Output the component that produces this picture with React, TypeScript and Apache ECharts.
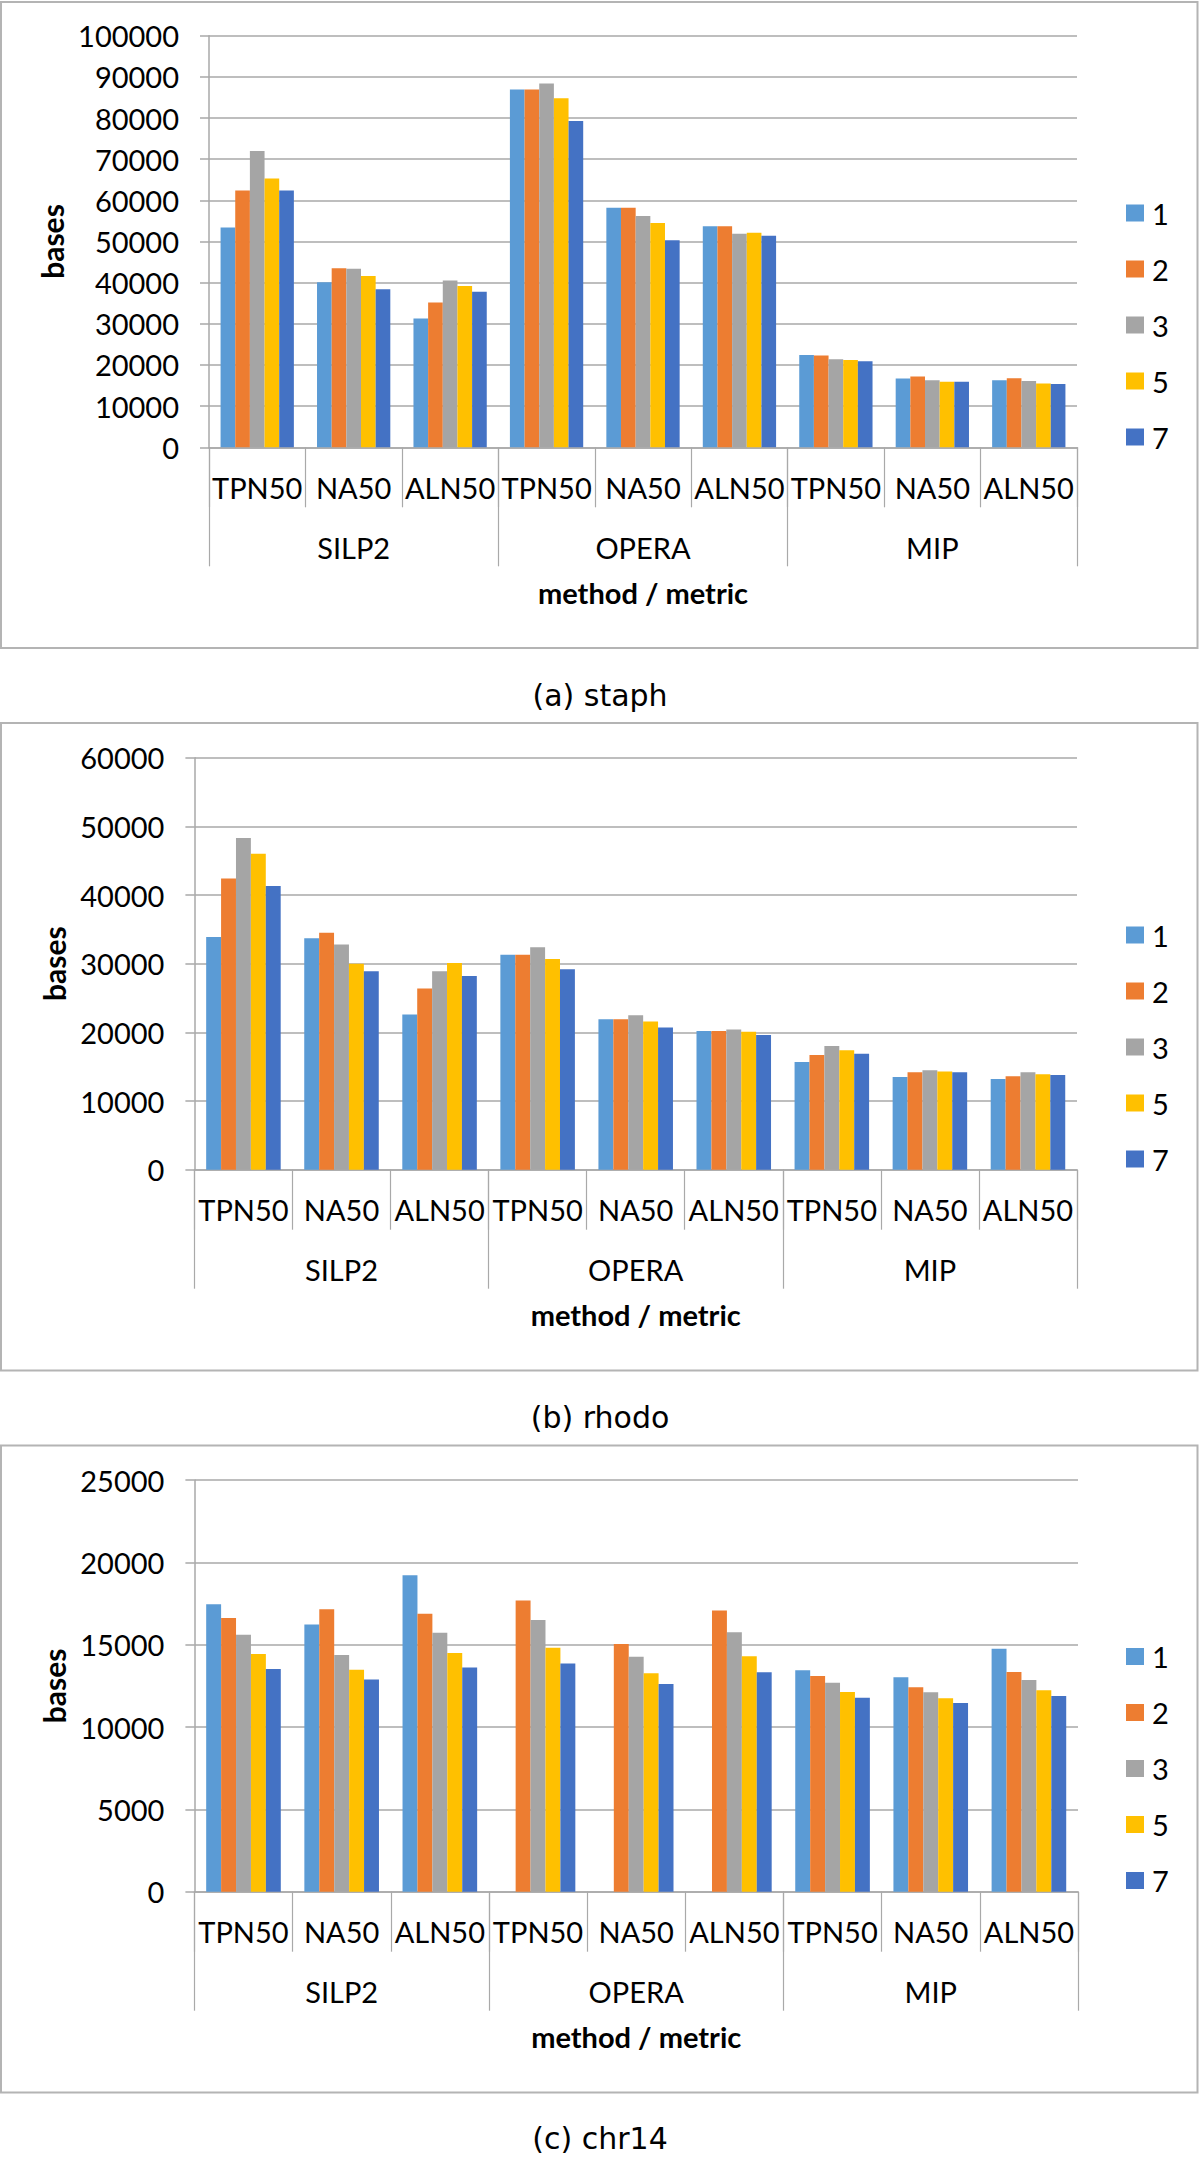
import React, { useEffect, useRef } from "react";
import * as echarts from "echarts";

const metrics = ["TPN50", "NA50", "ALN50", "TPN50", "NA50", "ALN50", "TPN50", "NA50", "ALN50"];
const methods = ["SILP2", "OPERA", "MIP"];
const seriesNames = ["1", "2", "3", "5", "7"];
const colors = ["#5B9BD5", "#ED7D31", "#A5A5A5", "#FFC000", "#4472C4"];

// staph
const staph1 = [53400, 40100, 31300, 86900, 58200, 53700, 22400, 16700, 16300];
const staph2 = [62400, 43500, 35200, 86900, 58200, 53700, 22300, 17200, 16800];
const staph3 = [72000, 43400, 40500, 88400, 56200, 51900, 21400, 16300, 16100];
const staph5 = [65300, 41600, 39200, 84800, 54500, 52100, 21200, 15900, 15500];
const staph7 = [62400, 38400, 37800, 79300, 50300, 51400, 20900, 15900, 15400];

// rhodo
const rhodo1 = [33900, 33700, 22600, 31300, 21900, 20200, 15700, 13500, 13200];
const rhodo2 = [42400, 34500, 26400, 31300, 21900, 20200, 16700, 14200, 13600];
const rhodo3 = [48300, 32800, 28900, 32400, 22500, 20400, 18000, 14500, 14200];
const rhodo5 = [46000, 30000, 30100, 30700, 21600, 20100, 17400, 14300, 13900];
const rhodo7 = [41300, 28900, 28200, 29200, 20700, 19600, 16900, 14200, 13800];

// chr14
const chr1 = [17450, 16230, 19210, null, null, null, 13440, 13020, 14760];
const chr2 = [16620, 17150, 16880, 17690, 15040, 17080, 13100, 12410, 13340];
const chr3 = [15610, 14370, 15730, 16500, 14270, 15750, 12690, 12110, 12850];
const chr5 = [14430, 13480, 14490, 14820, 13260, 14290, 12130, 11740, 12230];
const chr7 = [13520, 12890, 13620, 13850, 12610, 13320, 11780, 11460, 11880];

const yMaxes = [100000, 60000, 25000];
const yIntervals = [10000, 10000, 5000];
const captions = ["(a) staph", "(b) rhodo", "(c) chr14"];
const panelData = [
  [staph1, staph2, staph3, staph5, staph7],
  [rhodo1, rhodo2, rhodo3, rhodo5, rhodo7],
  [chr1, chr2, chr3, chr5, chr7],
];

const FONT = "Lato";
const FS = 29;
const GRID_COLOR = "#a9a9a9";
const BORDER_COLOR = "#b4b4b4";

const grids = [
  { left: 209, top: 35.7, width: 868, height: 411.6 },
  { left: 194.4, top: 757.7, width: 882.6, height: 412 },
  { left: 194.4, top: 1480, width: 883.6, height: 411.7 },
];
const yNameGaps = [134, 119, 119];
const legendTops = [198.5, 920.5, 1642];
const borders = [
  { y: 2, h: 646 },
  { y: 723, h: 647.5 },
  { y: 1445.5, h: 647 },
];
const captionY = [695, 1417, 2138];

export default function App() {
  const ref = useRef<HTMLDivElement>(null);
  useEffect(() => {
    if (!ref.current) return;
    const chart = echarts.init(ref.current, null, { renderer: "svg" });
    const xAxis: any[] = [];
    const yAxis: any[] = [];
    const series: any[] = [];
    const legend: any[] = [];
    const graphic: any[] = [];
    const labelStyle = { fontFamily: FONT, fontSize: FS, color: "#000", lineHeight: FS };
    grids.forEach((g, i) => {
      xAxis.push({
        type: "category",
        gridIndex: i,
        position: "bottom",
        data: metrics,
        axisLine: { show: true, lineStyle: { color: GRID_COLOR, width: 1.5 } },
        axisTick: { show: true, length: 60, interval: 0, lineStyle: { color: GRID_COLOR, width: 1.2 } },
        axisLabel: { interval: 0, margin: 25.5, ...labelStyle },
        name: "method / metric",
        nameLocation: "middle",
        nameGap: 130.5,
        nameTextStyle: { ...labelStyle, fontWeight: "bold" },
      });
      xAxis.push({
        type: "category",
        gridIndex: i,
        position: "bottom",
        data: methods,
        axisLine: { show: false },
        axisTick: { show: true, length: 119, interval: 0, lineStyle: { color: GRID_COLOR, width: 1.2 } },
        axisLabel: { interval: 0, margin: 85.5, ...labelStyle },
      });
      yAxis.push({
        type: "value",
        gridIndex: i,
        min: 0,
        max: yMaxes[i],
        interval: yIntervals[i],
        axisLine: { show: true, lineStyle: { color: GRID_COLOR, width: 1.5 } },
        axisTick: { show: true, length: 9, lineStyle: { color: GRID_COLOR, width: 1.5 } },
        splitLine: { show: true, lineStyle: { color: GRID_COLOR, width: 1.5 } },
        axisLabel: { margin: 30, formatter: (v: number) => String(v), ...labelStyle },
        name: "bases",
        nameLocation: "middle",
        nameRotate: 90,
        nameGap: yNameGaps[i],
        nameTextStyle: { ...labelStyle, fontSize: 30, fontWeight: "bold" },
      });
      panelData[i].forEach((vals, k) => {
        series.push({
          type: "bar",
          name: seriesNames[k],
          xAxisIndex: i * 2,
          yAxisIndex: i,
          data: vals,
          barGap: "0%",
          barCategoryGap: "24%",
          itemStyle: { color: colors[k] },
        });
      });
      legend.push({
        orient: "vertical",
        left: 1126,
        top: legendTops[i],
        padding: 0,
        itemWidth: 18,
        itemHeight: 17,
        itemGap: 27,
        icon: "rect",
        data: seriesNames,
        textStyle: { ...labelStyle, padding: [0, 0, 0, 3] },
      });
      graphic.push({
        type: "rect",
        shape: { x: 1, y: borders[i].y, width: 1196.5, height: borders[i].h },
        style: { fill: "none", stroke: BORDER_COLOR, lineWidth: 2 },
        silent: true,
      });
      graphic.push({
        type: "text",
        x: 600,
        y: captionY[i],
        style: {
          text: captions[i],
          fontFamily: "DejaVu Sans",
          fontSize: 30,
          fill: "#000",
          textAlign: "center",
          textVerticalAlign: "middle",
        },
      });
    });
    chart.setOption({
      animation: false,
      backgroundColor: "#fff",
      color: colors,
      grid: grids,
      xAxis,
      yAxis,
      series,
      legend,
      graphic,
    });
    return () => chart.dispose();
  }, []);
  return (
    <div
      ref={ref}
      style={{ position: "absolute", left: 0, top: 0, width: 1200, height: 2157 }}
    />
  );
}
